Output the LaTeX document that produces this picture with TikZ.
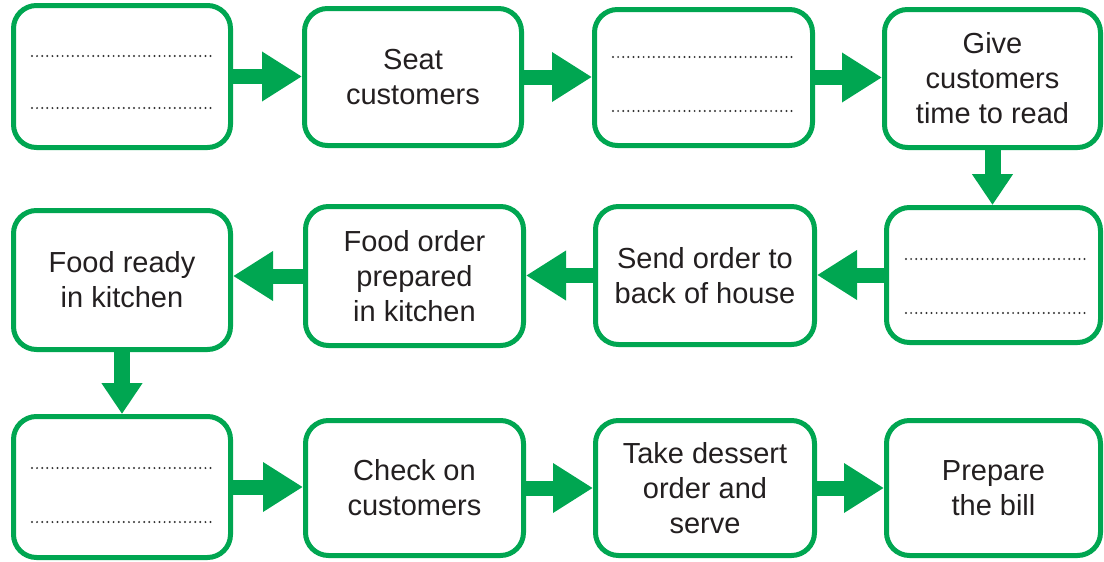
\documentclass[tikz,border=0pt]{standalone}
\usepackage{fontspec}
\setmainfont{Liberation Sans}
\usetikzlibrary{arrows.meta}
\definecolor{kgreen}{HTML}{00A651}
\definecolor{ktext}{HTML}{231F20}
\definecolor{kdot}{HTML}{333333}
\begin{document}
\begin{tikzpicture}[x=1pt,y=-1pt,
  stepbox/.style={draw=kgreen, line width=5pt, rounded corners=23pt, fill=white,
    align=center, text=ktext, inner sep=0pt,
    font=\fontsize{29}{35}\selectfont},
  harrow/.style={draw=kgreen, line width=15pt, -{Triangle[length=40pt,width=47pt]}},
  varrow/.style={draw=kgreen, line width=16pt, -{Triangle[length=31pt,width=39pt]}},
  dotline/.style={draw=kdot, line width=2.2pt, line cap=round, dash pattern=on 0pt off 5.1pt}
]
\useasboundingbox (0,0) rectangle (1104,562);
% row 1
\node[stepbox, minimum width=217pt, minimum height=142pt] (b1) at (122,76.5) {};
\node[stepbox, minimum width=217pt, minimum height=137pt] (b2) at (413,77) {Seat\\customers};
\node[stepbox, minimum width=218pt, minimum height=136pt] (b3) at (703.5,77.5) {};
\node[stepbox, minimum width=216pt, minimum height=138pt] (b4) at (992.5,78.5) {Give\\customers\\time to read};
% row 2
\node[stepbox, minimum width=214pt, minimum height=135pt] (b5) at (993.5,275) {};
\node[stepbox, minimum width=219pt, minimum height=138pt] (b6) at (705,275.5) {Send order to\\back of house};
\node[stepbox, minimum width=218pt, minimum height=139pt] (b7) at (414.5,276) {Food order\\prepared\\in kitchen};
\node[stepbox, minimum width=217pt, minimum height=139pt] (b8) at (122,280) {Food ready\\in kitchen};
% row 3
\node[stepbox, minimum width=217pt, minimum height=141pt] (b9) at (122,487) {};
\node[stepbox, minimum width=218pt, minimum height=135pt] (b10) at (414.5,488) {Check on\\customers};
\node[stepbox, minimum width=219pt, minimum height=135pt] (b11) at (705,488) {Take dessert\\order and\\serve};
\node[stepbox, minimum width=214pt, minimum height=135pt] (b12) at (993.5,488) {Prepare\\the bill};
% dotted writing lines
\draw[dotline] (32,56) -- (212,56);
\draw[dotline] (32,108) -- (212,108);
\draw[dotline] (613,57) -- (793,57);
\draw[dotline] (613,111) -- (793,111);
\draw[dotline] (906,259) -- (1086,259);
\draw[dotline] (906,313) -- (1086,313);
\draw[dotline] (32,468) -- (212,468);
\draw[dotline] (32,522) -- (212,522);
% arrows row 1
\draw[harrow] (b1.east) -- (b1.east -| b2.west);
\draw[harrow] (b2.east) -- (b2.east -| b3.west);
\draw[harrow] (b3.east) -- (b3.east -| b4.west);
% down
\draw[varrow] (b4.south) -- (b4.south |- b5.north);
% arrows row 2
\draw[harrow] (b5.west) -- (b5.west -| b6.east);
\draw[harrow] (b6.west) -- (b6.west -| b7.east);
\draw[harrow] (b7.west) -- (b7.west -| b8.east);
% down
\draw[varrow] (b8.south) -- (b8.south |- b9.north);
% arrows row 3
\draw[harrow] (b9.east) -- (b9.east -| b10.west);
\draw[harrow] (b10.east) -- (b10.east -| b11.west);
\draw[harrow] (b11.east) -- (b11.east -| b12.west);
\end{tikzpicture}
\end{document}
